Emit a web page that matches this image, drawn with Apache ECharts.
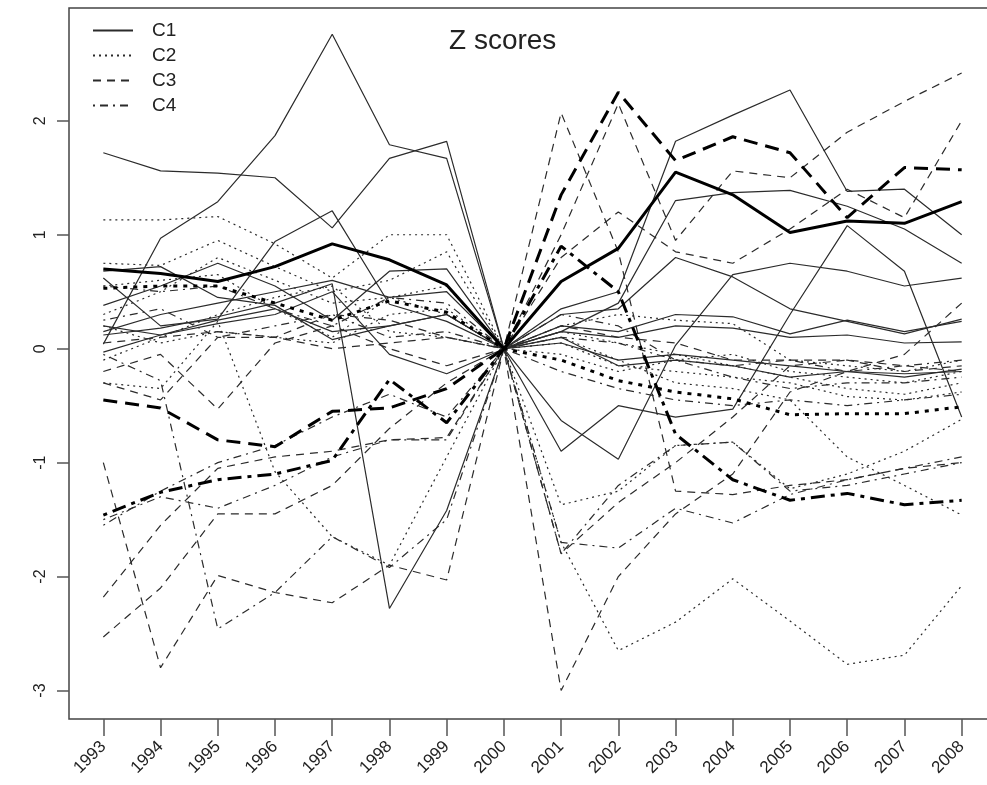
<!DOCTYPE html>
<html><head><meta charset="utf-8">
<script src="https://cdn.jsdelivr.net/npm/echarts@6/dist/echarts.min.js"></script>
<style>html,body{margin:0;padding:0;background:#fff}#c{width:987px;height:785px}</style>
</head><body><div id="c"></div>
<script>
// ---- data ----
const years = [1993,1994,1995,1996,1997,1998,1999,2000,2001,2002,2003,2004,2005,2006,2007,2008];
const yTicks = [-3,-2,-1,0,1,2];
const groupNames = ['C1','C2','C3','C4'];

const C1_thin = [
  [1.72,1.56,1.54,1.50,1.06,1.67,1.82,0,0.35,0.50,1.82,2.05,2.27,1.38,1.40,1.00],
  [0.04,0.97,1.29,1.87,2.76,1.79,1.67,0,0.15,0.40,1.30,1.37,1.39,1.25,1.05,0.75],
  [0.62,0.20,0.26,0.94,1.21,0.39,0.24,0,-0.90,-0.50,-0.60,-0.53,0.30,1.08,0.68,-0.60],
  [0.12,0.18,0.28,0.40,0.57,-2.28,-1.42,0,-0.63,-0.97,0.03,0.65,0.75,0.68,0.55,0.62],
  [0.68,0.72,0.45,0.38,0.08,0.20,0.30,0,0.30,0.35,0.80,0.63,0.35,0.24,0.13,0.26],
  [0.38,0.55,0.75,0.55,0.25,0.68,0.70,0,0.20,0.15,0.30,0.28,0.13,0.25,0.15,0.24],
  [0.20,0.12,0.22,0.30,0.50,-0.05,-0.22,0,0.15,0.10,0.20,0.18,0.10,0.12,0.05,0.06],
  [-0.03,0.12,0.25,0.35,0.15,0.20,0.30,0,0.05,-0.10,-0.05,-0.10,-0.15,-0.20,-0.25,-0.18],
  [0.15,0.30,0.40,0.50,0.60,0.45,0.50,0,0.10,-0.15,-0.10,-0.15,-0.25,-0.20,-0.22,-0.20]
];
const C1_mean = [0.70,0.66,0.59,0.72,0.92,0.78,0.56,0,0.59,0.88,1.55,1.35,1.02,1.12,1.10,1.29];

const C2_thin = [
  [1.13,1.13,1.16,0.92,0.62,1.00,1.00,0,-1.70,-2.65,-2.40,-2.02,-2.39,-2.77,-2.69,-2.08],
  [0.75,0.73,0.95,0.72,0.50,0.60,0.85,0,-1.37,-1.25,-0.85,-0.82,-1.23,-1.10,-0.90,-0.62],
  [0.30,0.50,0.80,0.60,0.40,0.45,0.55,0,0.10,-0.10,-0.30,-0.35,-0.45,-0.95,-1.20,-1.46],
  [0.20,0.05,0.15,0.10,0.05,0.30,0.35,0,0.20,0.30,0.25,0.22,-0.10,-0.15,-0.20,-0.10],
  [-0.30,-0.35,0.24,-1.08,-1.65,-1.90,-0.95,0,0.15,0.05,-0.05,-0.15,-0.25,-0.35,-0.40,-0.30],
  [0.55,0.60,0.65,0.35,0.10,0.45,0.30,0,0.05,-0.15,-0.20,-0.25,-0.30,-0.42,-0.45,-0.38],
  [-0.10,0.10,0.30,0.45,0.55,0.15,0.10,0,-0.05,-0.20,-0.10,-0.05,-0.20,-0.25,-0.30,-0.20]
];
const C2_mean = [0.53,0.55,0.55,0.40,0.25,0.42,0.32,0,-0.10,-0.28,-0.38,-0.44,-0.58,-0.57,-0.57,-0.51];

const C3_thin = [
  [-1.00,-2.80,-1.99,-2.14,-2.23,-1.90,-2.03,0,2.07,0.85,-1.25,-1.28,-1.20,-1.15,-1.05,-1.00],
  [-2.18,-1.55,-1.05,-0.95,-0.90,-0.80,-0.78,0,-3.00,-2.00,-1.45,-1.10,-0.38,-0.20,-0.05,0.40],
  [-2.53,-2.10,-1.45,-1.45,-1.20,-0.70,-0.30,0,1.00,2.15,0.95,1.56,1.50,1.90,2.17,2.42],
  [-0.20,-0.05,-0.53,0.05,0.20,0.00,-0.15,0,0.80,1.20,0.85,0.75,1.05,1.40,1.15,2.00],
  [0.05,0.10,0.15,0.10,0.30,0.25,0.10,0,-1.80,-1.35,-1.00,-0.60,-0.15,-0.10,-0.15,-0.20],
  [-0.30,-0.45,0.10,0.10,0.00,0.05,0.10,0,0.20,0.10,0.05,-0.10,-0.10,-0.10,-0.20,-0.15]
];
const C3_mean = [-0.45,-0.52,-0.80,-0.86,-0.55,-0.52,-0.35,0,1.35,2.25,1.65,1.86,1.72,1.15,1.59,1.57];

const C4_thin = [
  [-1.50,-1.30,-1.40,-1.20,-0.95,-0.80,-0.80,0,-1.80,-1.20,-0.85,-0.82,-1.25,-1.20,-1.10,-1.00],
  [-1.55,-1.25,-1.00,-0.85,-0.60,-0.40,-0.60,0,-1.70,-1.75,-1.40,-1.53,-1.28,-1.15,-1.05,-0.95],
  [-0.05,-0.28,-2.46,-2.14,-1.65,-1.92,-1.50,0,0.30,0.20,-0.10,-0.25,-0.35,-0.30,-0.30,-0.25],
  [0.55,0.50,0.55,0.35,0.20,0.45,0.40,0,0.10,0.05,-0.10,-0.15,-0.10,-0.20,-0.15,-0.10],
  [0.25,0.35,0.10,0.20,0.30,0.10,0.15,0,-0.20,-0.35,-0.45,-0.50,-0.45,-0.50,-0.45,-0.40]
];
const C4_mean = [-1.46,-1.26,-1.15,-1.10,-0.98,-0.27,-0.65,0,0.90,0.50,-0.75,-1.15,-1.33,-1.27,-1.37,-1.33];

// ---- styles ----
const thinDash = [[], [2,4], [8,6], [2,5,8,5]];
const thickDash = [[], [4,6], [14,8], [4,6,14,6]];
const groups = [
  {thin: C1_thin, mean: C1_mean},
  {thin: C2_thin, mean: C2_mean},
  {thin: C3_thin, mean: C3_mean},
  {thin: C4_thin, mean: C4_mean}
];

const series = [];
groups.forEach((g, gi) => {
  g.thin.forEach((vals, li) => {
    series.push({
      type: 'line', name: groupNames[gi], symbol: 'none', silent: true,
      data: years.map((y, i) => [y, vals[i]]),
      lineStyle: {color: '#2b2b2b', width: 1.2, type: thinDash[gi].length ? thinDash[gi] : 'solid'},
      itemStyle: {color: '#2b2b2b'},
      z: 2
    });
  });
});
groups.forEach((g, gi) => {
  series.push({
    type: 'line', name: groupNames[gi] + ' mean', symbol: 'none', silent: true,
    data: years.map((y, i) => [y, g.mean[i]]),
    lineStyle: {color: '#000', width: 3, type: thickDash[gi].length ? thickDash[gi] : 'solid'},
    itemStyle: {color: '#000'},
    z: 3
  });
});

const FONT = 'Liberation Sans, Arial, sans-serif';
const chart = echarts.init(document.getElementById('c'), null, {renderer: 'canvas'});
chart.setOption({
  animation: false,
  backgroundColor: '#fff',
  title: {text: 'Z scores', left: 444, top: 22, textStyle: {fontFamily: FONT, fontWeight: 'normal', fontSize: 28, color: '#222'}},
  legend: {
    data: groupNames, orient: 'vertical', left: 87, top: 16, itemWidth: 40, itemHeight: 12, itemGap: 6,
    itemStyle: {opacity: 0},
    textStyle: {fontFamily: FONT, fontSize: 19, color: '#222', padding: [0,0,0,14]},
    selectedMode: false
  },
  grid: {left: 69, top: 8, width: 927, height: 711, show: true, borderColor: '#444', borderWidth: 1.5, containLabel: false, outerBoundsMode: 'none'},
  xAxis: {
    type: 'value', min: 1992.4, max: 2008.6,
    axisLine: {show: false, onZero: false}, splitLine: {show: false},
    axisTick: {show: true, inside: false, length: 17, lineStyle: {color: '#555', width: 1.5}, customValues: years},
    axisLabel: {show: true, rotate: 45, margin: 25, fontSize: 17, color: '#222', fontFamily: FONT, customValues: years, formatter: v => String(v)}
  },
  yAxis: {
    type: 'value', min: -3.25, max: 2.99,
    axisLine: {show: false, onZero: false}, splitLine: {show: false},
    axisTick: {show: true, inside: false, length: 12, lineStyle: {color: '#555', width: 1.5}, customValues: yTicks},
    axisLabel: {show: true, rotate: 90, margin: 20, fontSize: 16, color: '#222', fontFamily: FONT, customValues: yTicks, formatter: v => String(v)}
  },
  series: series
});
</script></body></html>
